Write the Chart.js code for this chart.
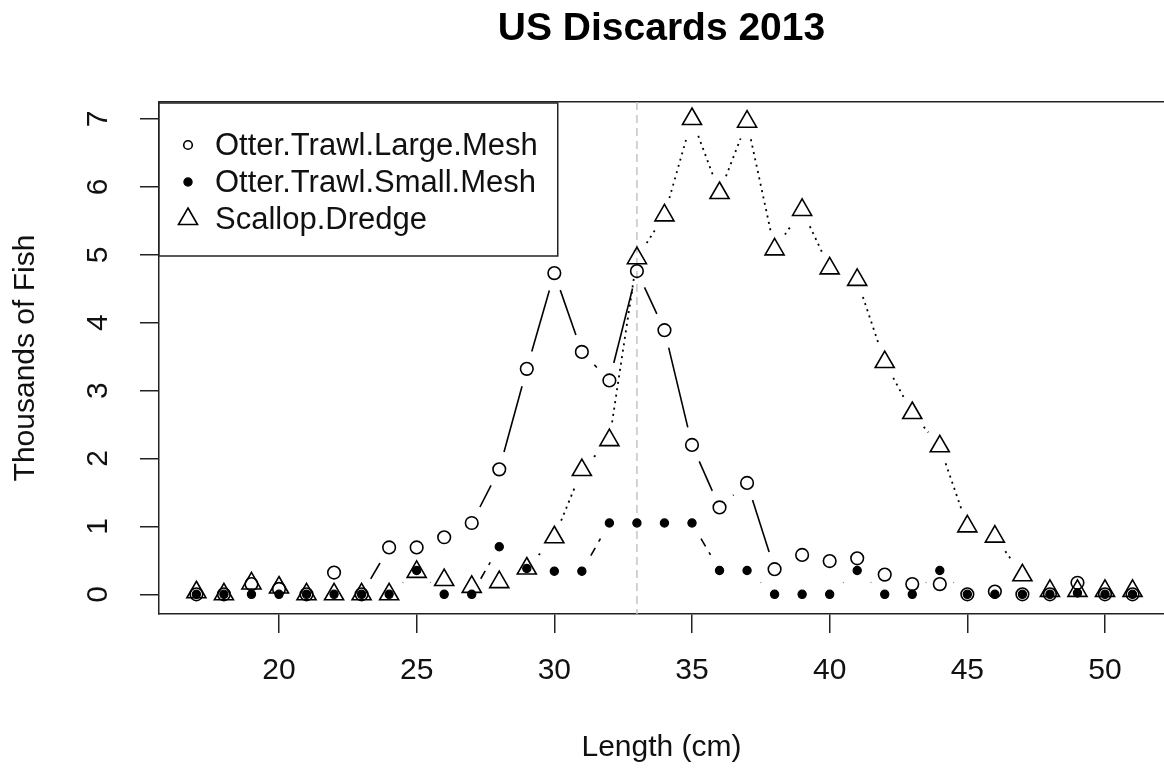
<!DOCTYPE html>
<html>
<head>
<meta charset="utf-8">
<script src="https://cdn.jsdelivr.net/npm/chart.js@4.4.1/dist/chart.umd.min.js"></script>
<style>
  html, body { margin: 0; padding: 0; background: #fff; overflow: hidden; }
  canvas { display: block; }
</style>
</head>
<body>
<canvas id="c" width="1164" height="772"></canvas>
<script>
// Length classes (cm) and discards (thousands of fish) per gear type
const lengths = [17, 18, 19, 20, 21, 22, 23, 24, 25, 26, 27, 28, 29, 30, 31, 32, 33, 34,
                 35, 36, 37, 38, 39, 40, 41, 42, 43, 44, 45, 46, 47, 48, 49, 50, 51];
const largeMesh = [0, 0, 0.15, 0.08, 0, 0.32, 0, 0.69, 0.69, 0.84, 1.05, 1.84, 3.32, 4.73, 3.57, 3.15, 4.76, 3.89,
                   2.2, 1.28, 1.64, 0.37, 0.58, 0.49, 0.53, 0.29, 0.15, 0.15, 0, 0.04, 0, 0, 0.17, 0, 0];
const smallMesh = [0, 0, 0, 0, 0, 0, 0, 0, 0.35, 0, 0, 0.7, 0.38, 0.34, 0.34, 1.05, 1.05, 1.05,
                   1.05, 0.35, 0.35, 0, 0, 0, 0.35, 0, 0, 0.35, 0, 0, 0, 0, 0.02, 0, 0];
const scallopDredge = [0.03, 0, 0.16, 0.1, 0, 0, 0, 0, 0.33, 0.21, 0.11, 0.18, 0.38, 0.84, 1.83, 2.27, 4.95, 5.58,
                       7.0, 5.91, 6.96, 5.08, 5.66, 4.8, 4.63, 3.42, 2.67, 2.18, 1.0, 0.85, 0.28, 0.05, 0.05, 0.05, 0.05];
const seriesNames = ['Otter.Trawl.Large.Mesh', 'Otter.Trawl.Small.Mesh', 'Scallop.Dredge'];
const xTicks = [20, 25, 30, 35, 40, 45, 50];
const yTicks = [0, 1, 2, 3, 4, 5, 6, 7];
const refLength = 33;
const chartTitle = 'US Discards 2013';
const xLabel = 'Length (cm)';
const yLabel = 'Thousands of Fish';

const FONT = "'Liberation Sans', Arial, sans-serif";
const INK = '#111';
const toPoints = vals => lengths.map((x, i) => ({ x, y: vals[i] }));

// Lines between points with a gap around each point (base-graphics type "b")
const gappedLines = {
  id: 'gappedLines',
  beforeDatasetsDraw(chart, args, opts) {
    const ctx = chart.ctx;
    const area = chart.chartArea;
    ctx.save();
    ctx.beginPath();
    ctx.rect(area.left, area.top, area.right - area.left, area.bottom - area.top);
    ctx.clip();
    // vertical reference line
    const xs = chart.scales.x;
    const rx = xs.getPixelForValue(refLength);
    ctx.strokeStyle = '#c4c4c4';
    ctx.lineWidth = 1.5;
    ctx.setLineDash([8, 5]);
    ctx.beginPath();
    ctx.moveTo(rx, area.top);
    ctx.lineTo(rx, area.bottom);
    ctx.stroke();

    chart.data.datasets.forEach((ds, i) => {
      const pts = chart.getDatasetMeta(i).data;
      ctx.strokeStyle = ds.lineColor;
      ctx.lineWidth = ds.lineWidth;
      ctx.setLineDash(ds.lineDash);
      for (let k = 1; k < pts.length; k++) {
        const a = pts[k - 1], b = pts[k];
        const dx = b.x - a.x, dy = b.y - a.y;
        const f = opts.gap / Math.hypot(dx, dy);
        if (f < 0.5) {
          ctx.lineDashOffset = 0;
          ctx.beginPath();
          ctx.moveTo(a.x + f * dx, a.y + f * dy);
          ctx.lineTo(b.x - f * dx, b.y - f * dy);
          ctx.stroke();
        }
      }
    });
    ctx.restore();
  }
};

// Boxed legend in the top-left corner of the plot
const boxLegend = {
  id: 'boxLegend',
  afterDraw(chart, args, opts) {
    const ctx = chart.ctx;
    const area = chart.chartArea;
    ctx.save();
    ctx.font = opts.fontSize + 'px ' + FONT;
    const names = chart.data.datasets.map(d => d.label);
    const textW = Math.max(...names.map(n => ctx.measureText(n).width));
    const x0 = area.left, y0 = area.top + 1;
    const w = opts.textX + textW + opts.padRight;
    const h = opts.height;
    ctx.fillStyle = '#fff';
    ctx.fillRect(x0, y0, w, h);
    ctx.strokeStyle = '#222';
    ctx.lineWidth = 1.5;
    ctx.strokeRect(x0, y0, w, h);
    chart.data.datasets.forEach((ds, i) => {
      const cy = y0 + opts.rowTop + i * opts.rowGap;
      ctx.fillStyle = ds.pointBackgroundColor;
      ctx.strokeStyle = ds.pointBorderColor;
      ctx.lineWidth = ds.pointBorderWidth;
      ctx.setLineDash([]);
      Chart.helpers.drawPoint(ctx, {
        pointStyle: ds.pointStyle,
        radius: opts.markerRadius[i],
        borderWidth: ds.pointBorderWidth,
        rotation: 0
      }, x0 + opts.markerX, cy);
      ctx.fillStyle = INK;
      ctx.textBaseline = 'middle';
      ctx.textAlign = 'left';
      ctx.fillText(ds.label, x0 + opts.textX, cy + 1);
    });
    ctx.restore();
  }
};

const X_MIN = 15.642, X_MAX = 52.143;
const Y_MIN = -0.29, Y_MAX = 7.25;

const axisFont = { family: FONT, size: 30 };

new Chart(document.getElementById('c'), {
  type: 'line',
  data: {
    datasets: [
      {
        label: seriesNames[0], data: toPoints(largeMesh), showLine: false,
        pointStyle: 'circle', pointRadius: 6.3, pointBorderWidth: 1.6,
        pointBorderColor: '#000', pointBackgroundColor: 'rgba(0,0,0,0)',
        lineColor: '#000', lineWidth: 1.6, lineDash: [], order: 2
      },
      {
        label: seriesNames[1], data: toPoints(smallMesh), showLine: false,
        pointStyle: 'circle', pointRadius: 4.1, pointBorderWidth: 1.2,
        pointBorderColor: '#000', pointBackgroundColor: '#000',
        lineColor: '#000', lineWidth: 1.6, lineDash: [9, 7], order: 1
      },
      {
        label: seriesNames[2], data: toPoints(scallopDredge), showLine: false,
        pointStyle: 'triangle', pointRadius: 11, pointBorderWidth: 1.6,
        pointBorderColor: '#000', pointBackgroundColor: 'rgba(0,0,0,0)',
        lineColor: '#000', lineWidth: 1.8, lineDash: [2, 4.5], order: 0
      }
    ]
  },
  options: {
    responsive: false,
    animation: false,
    devicePixelRatio: 1,
    events: [],
    layout: { padding: 0, autoPadding: false },
    plugins: {
      legend: { display: false },
      tooltip: { enabled: false },
      title: {
        display: true, text: chartTitle, color: '#000', fullSize: false,
        font: { family: FONT, size: 39, weight: 'bold' },
        padding: { top: 6, bottom: 49.2 }
      },
      gappedLines: { gap: 18 },
      boxLegend: {
        fontSize: 31, markerX: 29, textX: 56, padRight: 20, height: 153,
        rowTop: 42, rowGap: 37, markerRadius: [4.3, 4.1, 11]
      }
    },
    scales: {
      x: {
        type: 'linear', position: 'bottom', min: X_MIN, max: X_MAX,
        afterBuildTicks: s => { s.ticks = xTicks.map(v => ({ value: v })); },
        afterFit: s => { s.height = 158; },
        ticks: { font: axisFont, color: INK, padding: 20, maxRotation: 0, autoSkip: false },
        grid: { drawOnChartArea: false, drawTicks: true, tickLength: 19, color: '#222', lineWidth: 1.5 },
        border: { display: true, color: '#222', width: 1.5 },
        title: { display: true, text: xLabel, font: axisFont, color: INK, padding: { top: 0, bottom: 6 } }
      },
      xTop: {
        type: 'linear', position: 'top', min: X_MIN, max: X_MAX,
        afterFit: s => { s.height = 0; },
        ticks: { display: false },
        grid: { display: false },
        border: { display: true, color: '#222', width: 1.5 }
      },
      y: {
        type: 'linear', position: 'left', min: Y_MIN, max: Y_MAX,
        afterBuildTicks: s => { s.ticks = yTicks.map(v => ({ value: v })); },
        afterFit: s => { s.width = 159; },
        ticks: { font: axisFont, color: INK, padding: 33, minRotation: 90, maxRotation: 90, crossAlign: 'center' },
        grid: { drawOnChartArea: false, drawTicks: true, tickLength: 19, color: '#222', lineWidth: 1.5 },
        border: { display: true, color: '#222', width: 1.5 },
        title: { display: true, text: yLabel, font: axisFont, color: INK, padding: { top: 8, bottom: 0 } }
      }
    }
  },
  plugins: [gappedLines, boxLegend]
});
</script>
</body>
</html>
